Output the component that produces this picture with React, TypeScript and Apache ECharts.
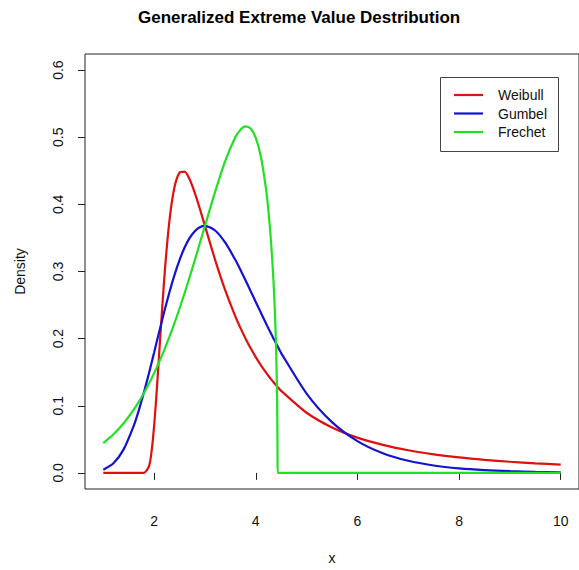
import React, { useEffect, useRef } from "react";
import * as echarts from "echarts";

// x positions (shared by all three curves)
const xs = [
  1.0, 1.2, 1.4, 1.6, 1.7, 1.8, 1.9, 1.95, 2.0, 2.05, 2.1, 2.2, 2.3, 2.4, 2.5,
  2.6, 2.7, 2.8, 2.9, 3.0, 3.2, 3.4, 3.6, 3.7, 3.8, 3.9, 4.0, 4.1, 4.2, 4.25,
  4.3, 4.35, 4.38, 4.4, 4.42, 4.428, 4.43, 4.5, 5, 5.5, 6, 6.5, 7, 7.5, 8, 8.5,
  9, 9.5, 10,
];

// densities
const weibull = [
  0, 0, 0, 0, 0, 0.0001, 0.0101, 0.032, 0.0699, 0.1207, 0.1783, 0.2901, 0.3748,
  0.4254, 0.4474, 0.4489, 0.437, 0.4172, 0.3934, 0.3679, 0.3174, 0.2719, 0.2328,
  0.2156, 0.2, 0.1856, 0.1725, 0.1606, 0.1497, 0.1446, 0.1397, 0.135, 0.1323,
  0.1306, 0.1288, 0.1281, 0.1279, 0.1222, 0.0896, 0.0677, 0.0525, 0.0417,
  0.0337, 0.0277, 0.0231, 0.0195, 0.0166, 0.0143, 0.0124,
];

const gumbel = [
  0.0046, 0.0143, 0.035, 0.0703, 0.0936, 0.12, 0.1489, 0.164, 0.1794, 0.1949,
  0.2102, 0.2404, 0.2688, 0.2946, 0.317, 0.3357, 0.35, 0.3601, 0.366, 0.3679,
  0.3611, 0.3429, 0.317, 0.3022, 0.2867, 0.2707, 0.2546, 0.2387, 0.2229, 0.2151,
  0.2075, 0.2, 0.1956, 0.1927, 0.1898, 0.1887, 0.1884, 0.1785, 0.1182, 0.0756,
  0.0474, 0.0293, 0.018, 0.011, 0.0067, 0.0041, 0.0025, 0.0015, 0.0009,
];

const frechet = [
  0.0443, 0.0575, 0.074, 0.0944, 0.1061, 0.1191, 0.1332, 0.1407, 0.1486,
  0.1567, 0.1653, 0.1833, 0.2025, 0.2231, 0.2449, 0.2679, 0.2919, 0.3167,
  0.3422, 0.3679, 0.4186, 0.4648, 0.5002, 0.5113, 0.5161, 0.5129, 0.499,
  0.4712, 0.4239, 0.3897, 0.345, 0.284, 0.2329, 0.1863, 0.1115, 0.035, 0, 0, 0,
  0, 0, 0, 0, 0, 0, 0, 0, 0, 0,
];

const seriesNames = ["Weibull", "Gumbel", "Frechet"];
const seriesColors = ["#e01010", "#1212d0", "#22e022"];
const xTicks = [2, 4, 6, 8, 10];
const yTicks = [0, 0.1, 0.2, 0.3, 0.4, 0.5, 0.6];

const FONT = "'Liberation Sans', Arial, Helvetica, sans-serif";

export default function App() {
  const ref = useRef<HTMLDivElement>(null);

  useEffect(() => {
    document.body.style.margin = "0";
    if (!ref.current) return;
    const chart = echarts.init(ref.current, undefined, { renderer: "svg" });

    const allSeries = [weibull, gumbel, frechet];

    const legendTop = 77;
    const legendLeft = 440;
    const rowY = [95, 113.5, 132];

    const legendGraphics: any[] = [
      {
        type: "rect",
        left: legendLeft,
        top: legendTop,
        shape: { width: 118, height: 74 },
        style: { fill: "#fff", stroke: "#444", lineWidth: 1 },
        z: 100,
      },
    ];
    seriesNames.forEach((name, i) => {
      legendGraphics.push({
        type: "line",
        shape: { x1: 454, y1: rowY[i], x2: 483, y2: rowY[i] },
        style: { stroke: seriesColors[i], lineWidth: 2.2 },
        z: 101,
      });
      legendGraphics.push({
        type: "text",
        x: 498,
        y: rowY[i],
        style: {
          text: name,
          fill: "#111",
          font: `14px ${FONT}`,
          textVerticalAlign: "middle",
          textAlign: "left",
        },
        z: 101,
      });
    });

    chart.setOption({
      animation: false,
      backgroundColor: "#fff",
      textStyle: { fontFamily: FONT },
      title: {
        text: "Generalized Extreme Value Destribution",
        left: 138,
        top: 9,
        padding: 0,
        textStyle: {
          fontFamily: FONT,
          fontSize: 17,
          fontWeight: "bold",
          color: "#000",
        },
      },
      grid: {
        left: 85,
        top: 54,
        right: -2,
        bottom: 77,
        show: true,
        borderColor: "#222",
        borderWidth: 1,
        backgroundColor: "transparent",
      },
      xAxis: {
        type: "value",
        min: 0.64,
        max: 10.36,
        name: "x",
        nameLocation: "middle",
        nameGap: 62,
        nameTextStyle: { fontSize: 14, color: "#111", fontFamily: FONT },
        axisLine: { show: false },
        splitLine: { show: false },
        axisTick: {
          show: true,
          inside: false,
          length: 7,
          customValues: xTicks,
          lineStyle: { color: "#222", width: 1 },
        },
        axisLabel: {
          customValues: xTicks,
          margin: 25,
          fontSize: 14,
          color: "#111",
          fontFamily: FONT,
          formatter: (v: number) => String(Math.round(v)),
        },
      },
      yAxis: {
        type: "value",
        min: -0.024,
        max: 0.624,
        name: "Density",
        nameLocation: "middle",
        nameRotate: 90,
        nameGap: 58,
        nameTextStyle: { fontSize: 14, color: "#111", fontFamily: FONT },
        axisLine: { show: false },
        splitLine: { show: false },
        axisTick: {
          show: true,
          inside: false,
          length: 7,
          customValues: yTicks,
          lineStyle: { color: "#222", width: 1 },
        },
        axisLabel: {
          customValues: yTicks,
          rotate: 90,
          margin: 20,
          fontSize: 14,
          color: "#111",
          fontFamily: FONT,
          formatter: (v: number) => v.toFixed(1),
        },
      },
      series: seriesNames.map((name, i) => ({
        name,
        type: "line",
        showSymbol: false,
        smooth: 0.25,
        clip: true,
        data: xs.map((x, j) => [x, allSeries[i][j]]),
        lineStyle: { color: seriesColors[i], width: 2.2 },
        itemStyle: { color: seriesColors[i] },
      })),
      graphic: legendGraphics,
    });

    return () => chart.dispose();
  }, []);

  return <div ref={ref} style={{ width: 579, height: 570 }} />;
}
